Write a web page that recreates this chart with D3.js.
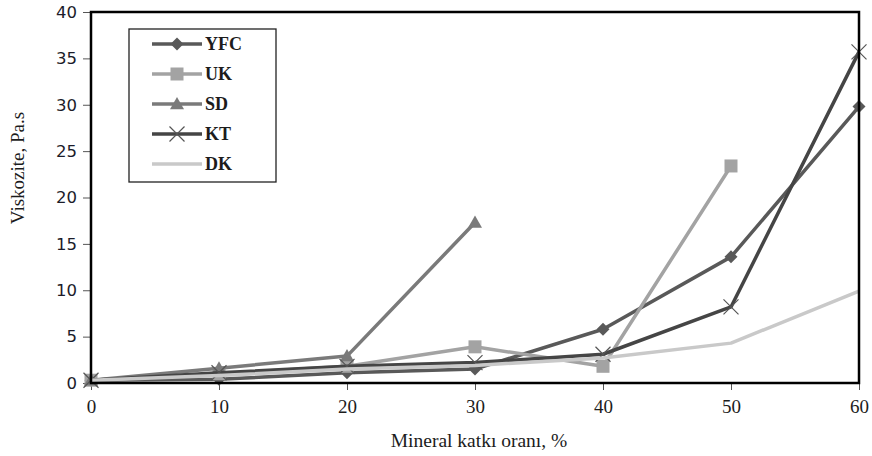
<!DOCTYPE html>
<html>
<head>
<meta charset="utf-8">
<script src="https://cdn.jsdelivr.net/npm/d3@7/dist/d3.min.js"></script>
<style>
  html, body { margin: 0; padding: 0; background: #fff; }
  svg { display: block; }
</style>
</head>
<body>
<svg id="chart" width="872" height="456"></svg>
<script>
// Mineral additive ratio (%) on the x axis
const ratios = [0, 10, 20, 30, 40, 50, 60];
const xTicks = [0, 10, 20, 30, 40, 50, 60];
const yTicks = [0, 5, 10, 15, 20, 25, 30, 35, 40];

// Viscosity (Pa.s) per additive
const yfc = [0.3, 0.4, 1.1, 1.5, 5.8, 13.6, 29.8];
const uk  = [0.3, 1.0, 1.8, 3.9, 1.8, 23.4];
const sd  = [0.3, 1.6, 2.9, 17.3];
const kt  = [0.3, 1.1, 1.8, 2.2, 3.1, 8.2, 35.7];
const dk  = [0.3, 0.8, 1.5, 1.9, 2.7, 4.3, 9.9];

const seriesNames = ["YFC", "UK", "SD", "KT", "DK"];
const seriesValues = [yfc, uk, sd, kt, dk];
const seriesColors = ["#595959", "#a3a3a3", "#7a7a7a", "#454545", "#c9c9c9"];
const seriesMarkers = ["diamond", "square", "triangle", "cross", "none"];

const svg = d3.select("#chart");
const plot = { left: 91, right: 859, top: 12, bottom: 383 };

const x = d3.scaleLinear().domain([0, 60]).range([plot.left, plot.right]);
const y = d3.scaleLinear().domain([0, 40]).range([plot.bottom, plot.top]);

// Axes
const yAxis = d3.axisLeft(y).tickValues(yTicks).tickSize(8).tickPadding(6).tickSizeOuter(0);
const xAxis = d3.axisBottom(x).tickValues(xTicks).tickSize(7).tickPadding(10).tickSizeOuter(0);

const gy = svg.append("g").attr("transform", `translate(${plot.left},0)`).call(yAxis);
gy.select(".domain").remove();
gy.selectAll(".tick line").attr("stroke", "#555").attr("stroke-width", 1);
gy.selectAll(".tick text")
  .attr("font-family", "'DejaVu Sans', Verdana, sans-serif")
  .attr("font-size", 16.5)
  .attr("fill", "#1c1c2a");

const gx = svg.append("g").attr("transform", `translate(0,${plot.bottom})`).call(xAxis);
gx.select(".domain").remove();
gx.selectAll(".tick line").attr("stroke", "#555").attr("stroke-width", 1);
gx.selectAll(".tick text")
  .attr("font-family", "'Liberation Serif', 'Times New Roman', serif")
  .attr("font-size", 19)
  .attr("fill", "#1c1c1c");

// Series lines and markers
const line = d3.line().x((d, i) => x(ratios[i])).y(d => y(d));

function drawMarker(g, type, color, size) {
  const h = size / 2;
  if (type === "diamond") {
    g.append("path").attr("d", `M0,${-h}L${h},0L0,${h}L${-h},0Z`).attr("fill", color);
  } else if (type === "square") {
    g.append("path").attr("d", `M${-h},${-h}H${h}V${h}H${-h}Z`).attr("fill", color);
  } else if (type === "triangle") {
    g.append("path").attr("d", `M0,${-h}L${h},${h * 0.75}L${-h},${h * 0.75}Z`).attr("fill", color);
  } else if (type === "cross") {
    g.append("path").attr("d", `M${-h},${-h}L${h},${h}M${-h},${h}L${h},${-h}`)
      .attr("stroke", "#555").attr("stroke-width", 1.2).attr("fill", "none");
  }
}

const markerSizes = [13, 13, 14, 15, 0];

seriesValues.forEach((vals, s) => {
  const g = svg.append("g");
  g.append("path").datum(vals)
    .attr("d", line)
    .attr("fill", "none")
    .attr("stroke", seriesColors[s])
    .attr("stroke-width", 3.5)
    .attr("stroke-linejoin", "round");
  vals.forEach((v, i) => {
    const m = g.append("g").attr("transform", `translate(${x(ratios[i])},${y(v)})`);
    drawMarker(m, seriesMarkers[s], seriesColors[s], markerSizes[s]);
  });
});

// Plot frame
svg.append("rect")
  .attr("x", plot.left).attr("y", plot.top)
  .attr("width", plot.right - plot.left).attr("height", plot.bottom - plot.top)
  .attr("fill", "none").attr("stroke", "#000").attr("stroke-width", 2.5);

// Axis titles
svg.append("text")
  .attr("transform", "translate(24,168) rotate(-90)")
  .attr("text-anchor", "middle")
  .attr("font-family", "'Liberation Serif', 'Times New Roman', serif")
  .attr("font-size", 19)
  .attr("fill", "#1c1c1c")
  .text("Viskozite, Pa.s");

svg.append("text")
  .attr("x", 479).attr("y", 447)
  .attr("text-anchor", "middle")
  .attr("font-family", "'Liberation Serif', 'Times New Roman', serif")
  .attr("font-size", 19.5)
  .attr("fill", "#1c1c1c")
  .text("Mineral katkı oranı, %");

// Legend
const legend = svg.append("g");
legend.append("rect")
  .attr("x", 129).attr("y", 29).attr("width", 147).attr("height", 153)
  .attr("fill", "#fff").attr("stroke", "#222").attr("stroke-width", 1.3);

seriesNames.forEach((name, s) => {
  const ly = 44 + s * 30;
  legend.append("line")
    .attr("x1", 152).attr("x2", 202).attr("y1", ly).attr("y2", ly)
    .attr("stroke", seriesColors[s]).attr("stroke-width", 3.5);
  const m = legend.append("g").attr("transform", `translate(177,${ly})`);
  drawMarker(m, seriesMarkers[s], seriesColors[s], markerSizes[s]);
  legend.append("text")
    .attr("x", 205).attr("y", ly + 6)
    .attr("font-family", "'Liberation Serif', 'Times New Roman', serif")
    .attr("font-size", 18)
    .attr("font-weight", "bold")
    .attr("fill", "#1c1c1c")
    .text(name);
});
</script>
</body>
</html>
